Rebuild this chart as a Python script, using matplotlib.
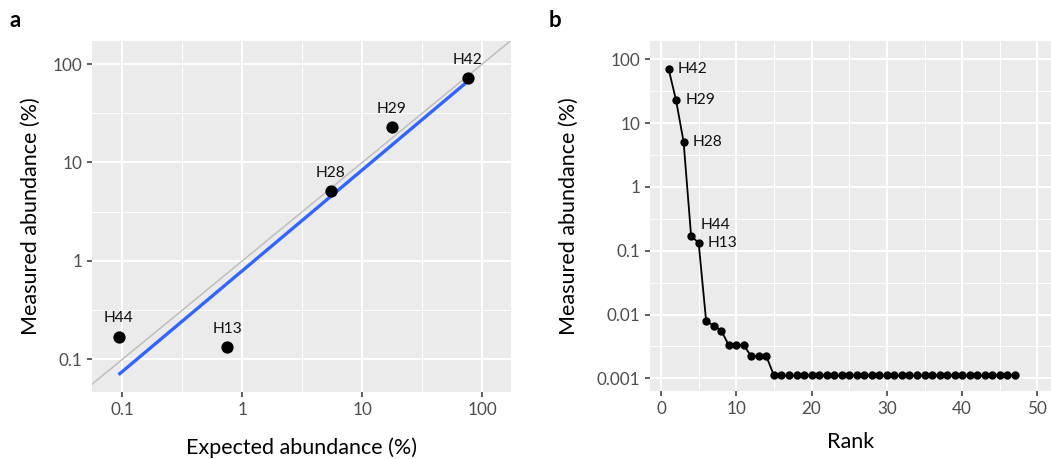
import numpy as np
import matplotlib
matplotlib.use("Agg")
from matplotlib import pyplot as plt

# panel a: expected vs measured abundance of the mock strains
strains = ["H42", "H29", "H28", "H44", "H13"]
expected = [76.1, 17.6, 5.48, 0.093, 0.75]
measured = [71.5, 22.8, 5.1, 0.170, 0.133]

# panel b: measured abundance by rank
rank_abundance = [
    71.5, 22.8, 5.1, 0.170, 0.133,
    0.0078, 0.0067, 0.0056,
    0.0033, 0.0033, 0.0033,
    0.0022, 0.0022, 0.0022,
    0.00111, 0.00111, 0.00111, 0.00111, 0.00111, 0.00111, 0.00111, 0.00111,
    0.00111, 0.00111, 0.00111, 0.00111, 0.00111, 0.00111, 0.00111, 0.00111,
    0.00111, 0.00111, 0.00111, 0.00111, 0.00111, 0.00111, 0.00111, 0.00111,
    0.00111, 0.00111, 0.00111, 0.00111, 0.00111, 0.00111, 0.00111, 0.00111,
    0.00111,
]
rank_labels = ["H42", "H29", "H28", "H44", "H13"]

log_ticks_a = [0.1, 1, 10, 100]
log_ticks_b = [0.001, 0.01, 0.1, 1, 10, 100]
rank_ticks = [0, 10, 20, 30, 40, 50]

plt.rcParams['font.family'] = ['Lato', 'DejaVu Sans']

BG = "#EBEBEB"
TICK_COL = "#4D4D4D"


def style_axes(ax):
    ax.set_facecolor(BG)
    for s in ax.spines.values():
        s.set_visible(False)
    ax.grid(True, which="major", color="white", linewidth=1.45)
    ax.grid(True, which="minor", color="white", linewidth=0.75)
    ax.set_axisbelow(True)
    ax.tick_params(which="major", length=3.6, width=1.1, color="#333333",
                   labelsize=12.3, labelcolor=TICK_COL, pad=3.5)
    ax.tick_params(which="minor", length=0)


def log_labels(vals):
    return ["%g" % v for v in vals]


fig = plt.figure(figsize=(10.51, 4.59), dpi=100)

# ---- panel a
ax1 = fig.add_axes([92 / 1051, 1 - 391.7 / 459, 419 / 1051, 350.7 / 459])
style_axes(ax1)
ax1.set_xscale("log")
ax1.set_yscale("log")
ax1.set_xlim(10 ** -1.253, 10 ** 2.240)
ax1.set_ylim(10 ** -1.329, 10 ** 2.234)
ax1.set_xticks(log_ticks_a)
ax1.set_xticklabels(log_labels(log_ticks_a))
ax1.set_yticks(log_ticks_a)
ax1.set_yticklabels(log_labels(log_ticks_a))
ax1.set_xticks([10 ** -0.5, 10 ** 0.5, 10 ** 1.5], minor=True)
ax1.set_yticks([10 ** -0.5, 10 ** 0.5, 10 ** 1.5], minor=True)
ax1.set_xticklabels([], minor=True)
ax1.set_yticklabels([], minor=True)

ax1.axline((0.1, 0.1), (100, 100), color="#BEBEBE", linewidth=1.1, zorder=2)

lx = np.log10(expected)
ly = np.log10(measured)
slope, icpt = np.polyfit(lx, ly, 1)
fx = np.array([lx.min(), lx.max()])
ax1.plot(10 ** fx, 10 ** (icpt + slope * fx), color="#3366FF", linewidth=2.4,
         solid_capstyle="butt", zorder=3)

ax1.scatter(expected, measured, s=78, color="black", zorder=4, linewidths=0)
for name, x, y in zip(strains, expected, measured):
    ax1.annotate(name, (x, y), xytext=(0, 13.3), textcoords="offset points",
                 ha="center", va="center", fontsize=11.2, color="#111111", zorder=5)

ax1.set_xlabel("Expected abundance (%)", fontsize=15.5, labelpad=14)
ax1.set_ylabel("Measured abundance (%)", fontsize=15.5, labelpad=8.5)

# ---- panel b
ax2 = fig.add_axes([650 / 1051, 1 - 391.2 / 459, 401 / 1051, 350.2 / 459])
style_axes(ax2)
ax2.set_yscale("log")
ax2.set_xlim(-1.46, 51.8)
ax2.set_ylim(10 ** -3.202, 10 ** 2.287)
ax2.set_xticks(rank_ticks)
ax2.set_xticks([5, 15, 25, 35, 45], minor=True)
ax2.set_yticks(log_ticks_b)
ax2.set_yticklabels(log_labels(log_ticks_b))
ax2.set_yticks([10 ** -2.5, 10 ** -1.5, 10 ** -0.5, 10 ** 0.5, 10 ** 1.5], minor=True)
ax2.set_yticklabels([], minor=True)

ranks = np.arange(1, len(rank_abundance) + 1)
ax2.plot(ranks, rank_abundance, color="black", linewidth=1.3, zorder=3)
ax2.scatter(ranks, rank_abundance, s=36, color="black", zorder=4, linewidths=0)

offsets = {"H44": (7.0, 7.7)}
for i, name in enumerate(rank_labels):
    dx, dy = offsets.get(name, (6.7, 0))
    ax2.annotate(name, (ranks[i], rank_abundance[i]), xytext=(dx, dy),
                 textcoords="offset points", ha="left", va="center",
                 fontsize=11.2, color="#111111", zorder=5)

ax2.set_xlabel("Rank", fontsize=15.5, labelpad=10.5)
ax2.set_ylabel("Measured abundance (%)", fontsize=15.5, labelpad=13)

fig.text(10 / 1051, 1 - 27 / 459, "a", fontsize=16, fontweight="bold",
         ha="left", va="baseline")
fig.text(549 / 1051, 1 - 27 / 459, "b", fontsize=16, fontweight="bold",
         ha="left", va="baseline")

fig.savefig("out.png", dpi=100)
